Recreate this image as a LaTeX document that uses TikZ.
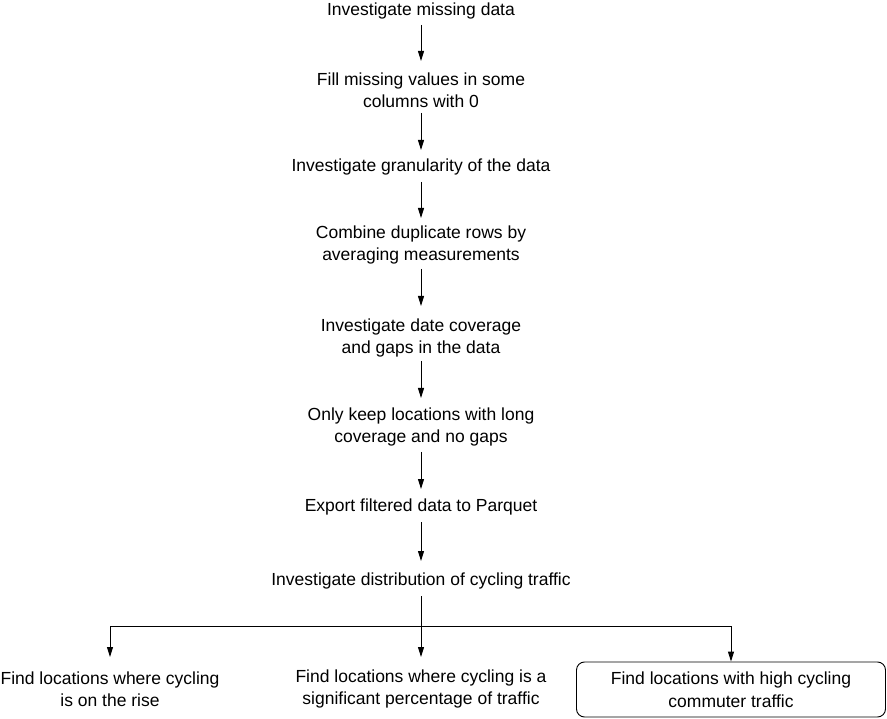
\documentclass[tikz,border=0pt]{standalone}
\usepackage{fontspec}
\setmainfont{Liberation Sans}
\usetikzlibrary{arrows.meta}
\begin{document}
\begin{tikzpicture}[x=1pt,y=-1pt,
  txt/.style={align=center,font=\fontsize{17.5}{22.5}\selectfont,inner sep=0pt},
  arr/.style={-{Triangle[width=6pt,length=10pt]},line width=0.9pt},
  ln/.style={line width=0.9pt},
  rbox/.style={txt,draw,rounded corners=8pt,line width=0.9pt,minimum width=309pt,minimum height=55pt}]
\useasboundingbox (0,0) rectangle (887,719);
\node[txt] (n1) at (421,11) {Investigate missing data};
\node[txt] (n2) at (421,90) {Fill missing values in some\\columns with 0};
\node[txt] (n3) at (421,167) {Investigate granularity of the data};
\node[txt] (n4) at (421,245) {Combine duplicate rows by\\averaging measurements};
\node[txt] (n5) at (421,338) {Investigate date coverage\\and gaps in the data};
\node[txt] (n6) at (421,427) {Only keep locations with long\\coverage and no gaps};
\node[txt] (n7) at (421,507) {Export filtered data to Parquet};
\node[txt] (n8) at (421,581) {Investigate distribution of cycling traffic};
\node[txt] (b1) at (110,689) {Find locations where cycling\\is on the rise};
\node[txt] (b2) at (421,689) {Find locations where cycling is a\\significant percentage of traffic};
\node[rbox] (b3) at (731,689.5) {Find locations with high cycling\\commuter traffic};
\draw[arr] (421,25) -- (421,61);
\draw[arr] (421,113) -- (421,150);
\draw[arr] (421,182) -- (421,218);
\draw[arr] (421,269) -- (421,306);
\draw[arr] (421,361) -- (421,398);
\draw[arr] (421,452) -- (421,489);
\draw[arr] (421,522) -- (421,561);
\coordinate (j) at (421,626);
\coordinate (jl) at (110,626);
\coordinate (jr) at (731,626);
\draw[ln] (421,596) -- (j);
\draw[ln] (jl) -- (jr);
\draw[arr] (jl) -- (110,657);
\draw[arr] (j) -- (421,657);
\draw[arr] (jr) -- (b3.north);
\end{tikzpicture}
\end{document}
